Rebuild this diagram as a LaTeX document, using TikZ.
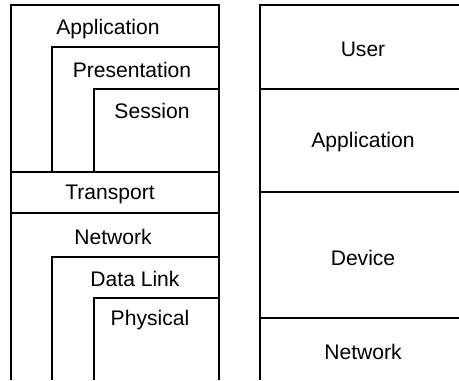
\documentclass[tikz,border=0pt]{standalone}
\usepackage{fontspec}
\setmainfont{Liberation Sans}
\usepackage{tikz}

\begin{document}
\begin{tikzpicture}[x=0.02cm,y=-0.02cm]

\tikzset{layer/.style = {font=\fontsize{12}{14}\selectfont}}
\tikzset{wall/.style = {draw,line width=0.7pt}}

\useasboundingbox (0,0) rectangle (459,380);

% OSI stack
\draw[wall] (11,380) -- (11,5) -- (219,5) -- (219,380);
\draw[wall] (52,172) -- (52,47) -- (219,47);
\draw[wall] (94,172) -- (94,89) -- (219,89);
\draw[wall] (11,172) -- (219,172);
\draw[wall] (11,213) -- (219,213);
\draw[wall] (52,380) -- (52,257) -- (219,257);
\draw[wall] (94,380) -- (94,298) -- (219,298);

% other stack
\draw[wall] (260,380) -- (260,5) -- (459,5);
\draw[wall] (260,89) -- (459,89);
\draw[wall] (260,192) -- (459,192);
\draw[wall] (260,318) -- (459,318);

% labels
\node[layer] (app)   at (108,29)  {Application};
\node[layer] (pres)  at (132,70)  {Presentation};
\node[layer] (sess)  at (152,111) {Session};
\node[layer] (trans) at (110,194) {Transport};
\node[layer] (net)   at (113,237) {Network};
\node[layer] (dll)   at (135,279) {Data Link};
\node[layer] (phys)  at (150,320) {Physical};

\node[layer] (user)  at (363,49)  {User};
\node[layer] (appl)  at (363,142) {Application};
\node[layer] (dev)   at (363,258) {Device};
\node[layer] (netw)  at (363,352) {Network};

\end{tikzpicture}
\end{document}
